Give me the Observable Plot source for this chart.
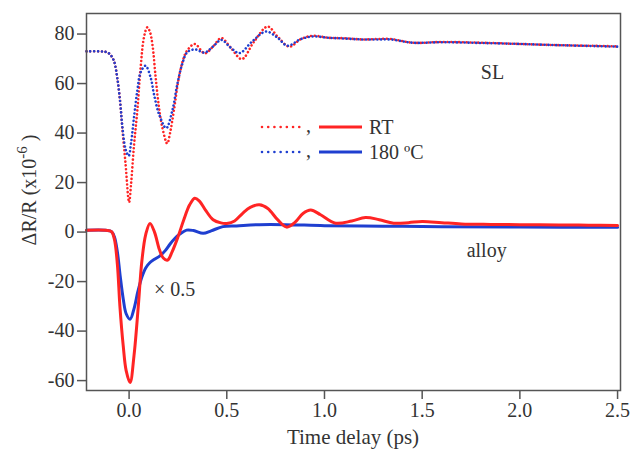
<!DOCTYPE html>
<html><head><meta charset="utf-8">
<script src="https://cdn.jsdelivr.net/npm/d3@7"></script>
<script src="https://cdn.jsdelivr.net/npm/@observablehq/plot@0.6"></script>
<style>
body{margin:0;background:#fff;}
#wrap{position:relative;width:635px;height:451px;}
</style></head><body><div id="wrap"></div>
<script>
// ---- data (time in ps, ΔR/R in 1e-6) ----
const slRtTime = [-0.218,-0.15,-0.12,-0.1,-0.078,-0.06,-0.045,-0.035,-0.018,0.0,0.01,0.025,0.042,0.059,0.076,0.093,0.106,0.119,0.136,0.153,0.17,0.195,0.212,0.229,0.255,0.28,0.297,0.336,0.387,0.43,0.472,0.52,0.577,0.64,0.709,0.76,0.82,0.88,0.94,1.02,1.1,1.2,1.27,1.34,1.45,1.6,1.8,2.0,2.2,2.4,2.5];
const slRtValue = [73,73,72.8,72,69.2,62,52,42.3,27.5,12,19.4,35,49,66.5,78.6,82.7,81,76,62.5,50.3,42.3,35.8,41,49,62.5,70.5,73.3,76,72.2,75,78.4,74.5,69.9,77,83,79,74.9,78,79.3,78.5,78.3,77.8,78,78,76.5,76.8,76.5,76,75.5,75.2,75];

const slHotTime = [-0.218,-0.15,-0.12,-0.1,-0.078,-0.06,-0.045,-0.035,-0.018,-0.002,0.01,0.025,0.042,0.059,0.084,0.11,0.127,0.153,0.19,0.221,0.247,0.272,0.297,0.336,0.387,0.43,0.472,0.52,0.565,0.63,0.70,0.76,0.81,0.88,0.94,1.02,1.1,1.2,1.27,1.34,1.45,1.6,1.8,2.0,2.2,2.4,2.5];
const slHotValue = [73,73,72.8,72,69.2,62,52,43,33.5,30.8,36,46.3,57.1,64.5,67.2,62.5,55.8,47.7,42,49,59.8,67.9,72.6,73.8,72.5,75,77.6,74.5,72.3,77,81,78.5,75.3,78,79,78.5,78.2,77.8,77.8,77.8,76.5,76.7,76.4,76,75.5,75.1,74.9];

const alloyRtTime = [-0.218,-0.12,-0.09,-0.075,-0.06,-0.047,-0.03,-0.015,0.005,0.025,0.047,0.065,0.085,0.107,0.13,0.155,0.175,0.197,0.22,0.25,0.28,0.31,0.336,0.36,0.39,0.43,0.47,0.5,0.54,0.58,0.62,0.667,0.71,0.76,0.806,0.85,0.89,0.93,0.98,1.057,1.14,1.21,1.28,1.354,1.43,1.5,1.6,1.7,1.85,2.0,2.2,2.35,2.5];
const alloyRtValue = [0.7,0.7,0.2,-3,-13,-30,-46,-56,-60.8,-50,-30,-12,-1,3.5,0,-7,-10.5,-11.3,-8,-2,5,11,13.7,12.5,9,5,3.7,3.5,4.5,7.5,10,11,9.5,5,2,4,7.5,8.9,7,3.6,4.5,5.9,5,3.6,3.8,4.3,3.8,3.3,3.1,3,2.9,2.8,2.7];

const alloyHotTime = [-0.218,-0.12,-0.09,-0.075,-0.06,-0.046,-0.03,-0.015,0.005,0.025,0.045,0.065,0.085,0.107,0.13,0.158,0.185,0.209,0.235,0.26,0.294,0.33,0.379,0.42,0.48,0.55,0.667,0.8,1.0,1.3,1.6,2.0,2.5];
const alloyHotValue = [0.7,0.7,0.2,-2,-8,-17.5,-27,-33,-35.2,-31,-24,-18.3,-14.5,-12.3,-11,-9.6,-7.5,-4.9,-2.5,-0.8,0.8,0.6,-0.5,0.5,2.2,2.5,3,3,2.6,2.4,2.2,2.0,1.9];

const xTicks = [0, 0.5, 1.0, 1.5, 2.0, 2.5];
const yTicks = [-60, -40, -20, 0, 20, 40, 60, 80];
const legendLabels = ["RT", "180 ºC"];
const sampleLabels = ["SL", "alloy", "× 0.5"];

// ---- styles ----
const RED = "#ff2424";
const BLUE = "#1f3fd0";
const FONT = '"Liberation Serif", "Times New Roman", serif';
const INK = "#333";
const AXIS = "#555";

const toRows = (ts, vs) => ts.map((t, i) => ({t, v: vs[i]}));
const slRt = toRows(slRtTime, slRtValue);
const slHot = toRows(slHotTime, slHotValue);
const alloyRt = toRows(alloyRtTime, alloyRtValue);
const alloyHot = toRows(alloyHotTime, alloyHotValue);

const dotted = {strokeWidth: 2.6, strokeDasharray: "0.01,3.8", strokeLinecap: "round", curve: "catmull-rom"};
const solid = {strokeWidth: 3, curve: "catmull-rom", strokeLinejoin: "round"};
const txt = {fill: INK, fontSize: 20, fontFamily: FONT};

const plot = Plot.plot({
  width: 635, height: 451,
  marginLeft: 86, marginRight: 15, marginTop: 13, marginBottom: 61,
  style: {fontFamily: FONT, fontSize: "20px", color: INK, background: "white"},
  x: {domain: [-0.218, 2.515]},
  y: {domain: [-64, 88.3]},
  marks: [
    Plot.line(slRt, {x: "t", y: "v", stroke: RED, ...dotted}),
    Plot.line(slHot, {x: "t", y: "v", stroke: BLUE, ...dotted}),
    Plot.line(alloyHot, {x: "t", y: "v", stroke: BLUE, ...solid}),
    Plot.line(alloyRt, {x: "t", y: "v", stroke: RED, ...solid}),
    Plot.axisX({ticks: xTicks, tickSize: 9, tickPadding: 3, tickFormat: d3.format(".1f"),
      stroke: AXIS, strokeWidth: 1.5, ...txt, label: null}),
    Plot.axisY({ticks: yTicks, tickSize: 9, tickPadding: 3, tickFormat: d => String(d),
      stroke: AXIS, strokeWidth: 1.5, ...txt, label: null}),
    Plot.frame({stroke: AXIS, strokeWidth: 1.5}),
    Plot.text([sampleLabels[0]], {x: 1.86, y: 64.5, text: d => d, ...txt, textAnchor: "middle"}),
    Plot.text([sampleLabels[1]], {x: 1.83, y: -7.6, text: d => d, ...txt, textAnchor: "middle"}),
    Plot.text([sampleLabels[2]], {x: 0.127, y: -23.4, text: d => d, ...txt, textAnchor: "start"})
  ]
});
document.getElementById("wrap").appendChild(plot);

// axis titles and legend
const svg = d3.select(plot);
svg.append("text")
  .attr("x", 353).attr("y", 444)
  .attr("text-anchor", "middle")
  .attr("font-family", FONT).attr("font-size", 21).attr("fill", INK)
  .text("Time delay (ps)");

const yl = svg.append("text")
  .attr("transform", "translate(36,190) rotate(-90)")
  .attr("text-anchor", "middle")
  .attr("font-family", FONT).attr("font-size", 20).attr("fill", INK);
yl.append("tspan").text("ΔR/R (x10");
yl.append("tspan").attr("dy", -9).attr("font-size", 15).text("-6");
yl.append("tspan").attr("dy", 9).text(" )");

const legend = svg.append("g").attr("text-anchor", "start");
const rows = [{c: RED, y: 127}, {c: BLUE, y: 152}];
rows.forEach((r, i) => {
  legend.append("line").attr("x1", 262).attr("x2", 300).attr("y1", r.y).attr("y2", r.y)
    .attr("stroke", r.c).attr("stroke-width", 2.6).attr("stroke-dasharray", "0.01,6.2").attr("stroke-linecap", "round");
  legend.append("text").attr("x", 306).attr("y", r.y + 5).attr("text-anchor", "start").attr("font-family", FONT).attr("font-size", 20).attr("fill", INK).text(",");
  legend.append("line").attr("x1", 319).attr("x2", 362).attr("y1", r.y).attr("y2", r.y)
    .attr("stroke", r.c).attr("stroke-width", 3);
  legend.append("text").attr("x", 369).attr("y", r.y + 7).attr("text-anchor", "start").attr("font-family", FONT).attr("font-size", 20).attr("fill", INK).text(legendLabels[i]);
});
</script>
</body></html>
